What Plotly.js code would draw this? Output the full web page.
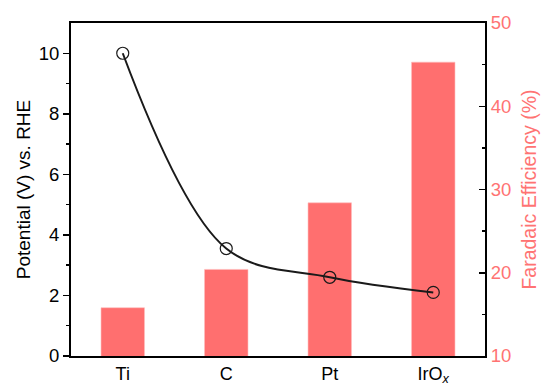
<!DOCTYPE html>
<html>
<head>
<meta charset="utf-8">
<script src="https://cdn.plot.ly/plotly-3.0.1.min.js"></script>
<style>html,body{margin:0;padding:0;background:#fff;}#chart{width:546px;height:390px;}</style>
</head>
<body>
<div id="chart"></div>
<script>
const categories = ['Ti', 'C', 'Pt', 'IrO<sub><i>x</i></sub>'];
const potential = [10.0, 3.55, 2.6, 2.1];
const faradaicEfficiency = [15.8, 20.4, 28.4, 45.3];

const red = 'rgb(255,111,111)';
const redText = 'rgb(255,115,115)';
const font = 'Arial, "Liberation Sans", sans-serif';

const traces = [
  {
    type: 'bar', x: categories, y: faradaicEfficiency, yaxis: 'y',
    marker: {color: red, line: {color: 'rgba(255,190,190,1)', width: 0.6}},
    width: 0.42, hoverinfo: 'skip', cliponaxis: true
  },
  {
    type: 'scatter', mode: 'lines+markers', x: categories, y: potential, yaxis: 'y2',
    line: {color: '#1a1a1a', width: 2, shape: 'spline', smoothing: 1},
    marker: {symbol: 'circle-open', size: 12, color: '#1a1a1a', line: {width: 1.2, color: '#1a1a1a'}}
  }
];

const layout = {
  width: 546, height: 390,
  margin: {l: 71, r: 61, t: 23, b: 34},
  paper_bgcolor: '#fff', plot_bgcolor: '#fff',
  showlegend: false,
  font: {family: font, size: 18, color: '#000'},
  xaxis: {
    type: 'category', range: [-0.5, 3.5],
    showline: true, linecolor: '#000', linewidth: 2, mirror: true,
    ticks: '', showgrid: false, zeroline: false,
    tickfont: {family: font, size: 18, color: '#000'}
  },
  yaxis: {
    side: 'right', range: [10, 50],
    tickvals: [10, 20, 30, 40, 50],
    showline: true, linecolor: '#000', linewidth: 2,
    ticks: 'inside', ticklen: 6, tickwidth: 1.5, tickcolor: '#000',
    minor: {ticks: 'inside', ticklen: 3, tickwidth: 1.5, tickcolor: '#000', tickvals: [15, 25, 35, 45]},
    showgrid: false, zeroline: false,
    tickfont: {family: font, size: 18.5, color: redText},
    title: {text: 'Faradaic Efficiency (%)', font: {family: font, size: 19.5, color: redText}, standoff: 12}
  },
  yaxis2: {
    side: 'left', overlaying: 'y', range: [0, 11],
    tickvals: [0, 2, 4, 6, 8, 10],
    showline: true, linecolor: '#000', linewidth: 2,
    ticks: 'outside', ticklen: 6, tickwidth: 1.5, tickcolor: '#000',
    minor: {ticks: 'outside', ticklen: 3, tickwidth: 1.5, tickcolor: '#000', tickvals: [1, 3, 5, 7, 9]},
    showgrid: false, zeroline: false,
    tickfont: {family: font, size: 18.5, color: '#000'},
    title: {text: 'Potential (V) vs. RHE', font: {family: font, size: 19, color: '#000'}, standoff: 3}
  }
};

Plotly.newPlot('chart', traces, layout, {displayModeBar: false, staticPlot: true});
</script>
</body>
</html>
